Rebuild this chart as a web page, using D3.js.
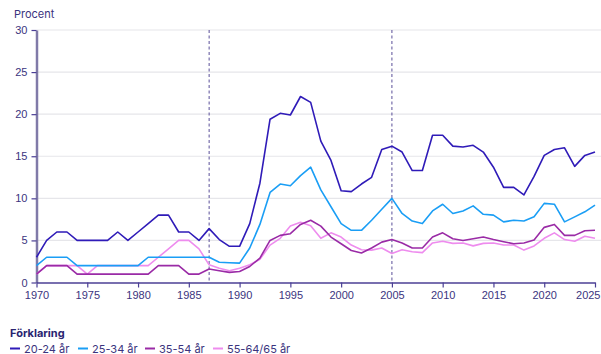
<!DOCTYPE html>
<html>
<head>
<meta charset="utf-8">
<script src="https://cdn.jsdelivr.net/npm/d3@7"></script>
<style>
  html, body { margin: 0; padding: 0; background: #fff; }
  svg { display: block; font-family: Inter, "Noto Sans", sans-serif; }
</style>
</head>
<body>
<svg id="chart" width="601" height="354"></svg>
<script>
// Arbetslöshet per åldersgrupp, 1970–2025 (procent)
const years = d3.range(1970, 2026);

const age2024 = [3, 5, 6, 6, 5, 5, 5, 5, 6, 5, 6, 7, 8, 8, 6, 6, 5, 6.4, 5.1, 4.3,
  4.3, 7.0, 11.8, 19.4, 20.1, 19.9, 22.1, 21.4, 16.8, 14.5, 10.9, 10.8, 11.7, 12.5, 15.8, 16.2,
  15.5, 13.3, 13.3, 17.5, 17.5, 16.2, 16.1, 16.3, 15.5, 13.7, 11.3, 11.3, 10.4, 12.6, 15.1,
  15.8, 16.0, 13.8, 15.1, 15.5];

const age2534 = [2, 3, 3, 3, 2, 2, 2, 2, 2, 2, 2, 3, 3, 3, 3, 3, 3, 3, 2.4, 2.35,
  2.3, 4.1, 6.9, 10.7, 11.7, 11.5, 12.7, 13.7, 11.0, 9.0, 7.0, 6.2, 6.2, 7.4, 8.7, 10.0,
  8.2, 7.3, 7.0, 8.5, 9.3, 8.2, 8.5, 9.1, 8.1, 8.0, 7.2, 7.4, 7.3, 7.8, 9.4,
  9.3, 7.2, 7.8, 8.4, 9.2];

const age3554 = [1, 2, 2, 2, 1, 1, 1, 1, 1, 1, 1, 1, 2, 2, 2, 1, 1, 1.6, 1.4, 1.2,
  1.3, 1.9, 2.9, 5.0, 5.6, 5.8, 6.9, 7.4, 6.7, 5.4, 4.6, 3.8, 3.5, 4.1, 4.8, 5.1,
  4.7, 4.1, 4.1, 5.4, 5.9, 5.2, 5.0, 5.2, 5.4, 5.1, 4.85, 4.6, 4.7, 5.05, 6.55,
  6.9, 5.6, 5.6, 6.15, 6.2];

const age5565 = [1, 2, 2, 2, 2, 1, 2, 2, 2, 2, 2, 2, 3, 4, 5, 5, 4, 2.1, 1.7, 1.4,
  1.7, 2.1, 2.75, 4.45, 5.25, 6.7, 7.15, 6.75, 5.25, 5.9, 5.4, 4.45, 3.9, 3.85, 4.1, 3.45,
  3.9, 3.65, 3.55, 4.7, 4.9, 4.65, 4.7, 4.35, 4.65, 4.7, 4.45, 4.45, 3.85, 4.35, 5.25,
  5.9, 5.1, 4.9, 5.5, 5.25];

const seriesNames = ["20-24 år", "25-34 år", "35-54 år", "55-64/65 år"];
const seriesValues = [age2024, age2534, age3554, age5565];
const seriesColors = ["#2f1bb8", "#1a9ef5", "#9a2ba6", "#ee8cee"];

const yTicks = [0, 5, 10, 15, 20, 25, 30];
const xTicks = d3.range(1970, 2026, 5);
const markerYears = [1987, 2005];

const textColor = "#3b347e";
const axisColor = "#4b3f95";

const svg = d3.select("#chart");
const margin = { left: 36.5, right: 6, top: 30, bottom: 71.5 };
const W = 601, H = 354;

const x = d3.scaleLinear().domain([1970, 2025]).range([margin.left, W - margin.right]);
const y = d3.scaleLinear().domain([0, 30]).range([H - margin.bottom, margin.top]);

// Horizontal grid
svg.append("g")
  .selectAll("line")
  .data(yTicks.filter(d => d > 0))
  .join("line")
  .attr("x1", margin.left).attr("x2", W)
  .attr("y1", d => y(d)).attr("y2", d => y(d))
  .attr("stroke", "#e6e6ea").attr("stroke-width", 1.2);

// Y axis
const yAxis = svg.append("g")
  .attr("transform", `translate(${margin.left},0)`)
  .call(d3.axisLeft(y).tickValues(yTicks).tickSize(5).tickSizeOuter(0));
yAxis.select(".domain").attr("stroke", "#807aa8").attr("stroke-width", 2.5);
yAxis.selectAll(".tick line").attr("stroke", axisColor).attr("stroke-width", 1.2);
yAxis.selectAll(".tick text")
  .attr("fill", textColor).attr("font-size", 11).attr("x", -9);

// X axis
const xAxis = svg.append("g")
  .attr("transform", `translate(0,${y(0)})`)
  .call(d3.axisBottom(x).tickValues(xTicks).tickFormat(d3.format("d")).tickSize(5).tickSizeOuter(0));
xAxis.select(".domain").attr("stroke", axisColor).attr("stroke-width", 1.5);
xAxis.selectAll(".tick line").attr("stroke", axisColor).attr("stroke-width", 1.2);
xAxis.selectAll(".tick text")
  .attr("fill", textColor).attr("font-size", 11).attr("y", 9)
  .filter(d => d === 2025).attr("text-anchor", "end").attr("dx", "5");

// Dashed reference years
svg.append("g")
  .selectAll("line")
  .data(markerYears)
  .join("line")
  .attr("x1", d => x(d)).attr("x2", d => x(d))
  .attr("y1", y(30)).attr("y2", y(0))
  .attr("stroke", "#5a4f98").attr("stroke-width", 1)
  .attr("stroke-dasharray", "3,2.5");

// Unit label
svg.append("text")
  .attr("x", 14).attr("y", 18)
  .attr("fill", textColor).attr("font-size", 11)
  .text("Procent");

// Series lines (draw from back to front)
const line = d3.line()
  .x((d, i) => x(years[i]))
  .y(d => y(d));

const order = [3, 2, 1, 0];
svg.append("g")
  .selectAll("path")
  .data(order)
  .join("path")
  .attr("d", k => line(seriesValues[k]))
  .attr("fill", "none")
  .attr("stroke", k => seriesColors[k])
  .attr("stroke-width", 1.6)
  .attr("stroke-linejoin", "round");

// Legend
svg.append("text")
  .attr("x", 10).attr("y", 337)
  .attr("fill", "#2a2470").attr("font-size", 11).attr("font-weight", 700)
  .text("Förklaring");

const legendX = [10, 78, 145, 213];
const leg = svg.append("g")
  .selectAll("g")
  .data(seriesNames)
  .join("g")
  .attr("transform", (d, i) => `translate(${legendX[i]},348.5)`);
leg.append("line")
  .attr("x1", 0).attr("x2", 10)
  .attr("stroke", (d, i) => seriesColors[i]).attr("stroke-width", 2);
leg.append("text")
  .attr("x", 14).attr("y", 4)
  .attr("fill", textColor).attr("font-size", 11)
  .text(d => d);
</script>
</body>
</html>
